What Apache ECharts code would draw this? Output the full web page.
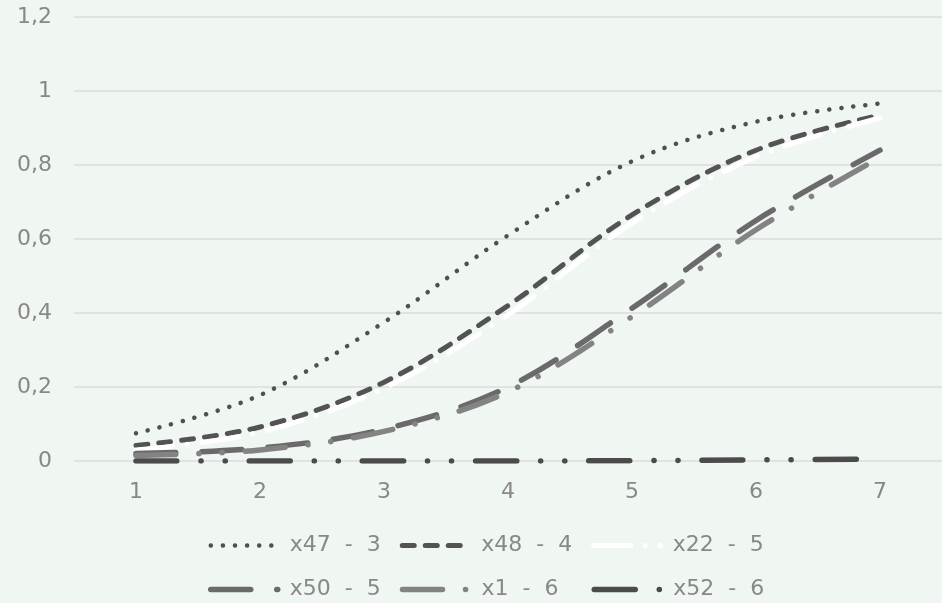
<!DOCTYPE html>
<html>
<head>
<meta charset="utf-8">
<script src="https://cdn.jsdelivr.net/npm/echarts@6/dist/echarts.min.js"></script>
<style>
html,body{margin:0;padding:0;background:#f0f6f2;}
#chart{width:942px;height:603px;}
</style>
</head>
<body>
<div id="chart"></div>
<script>
const categories = ['1', '2', '3', '4', '5', '6', '7'];
const seriesNames = ['x47  -  3', 'x48  -  4', 'x22  -  5', 'x50  -  5', 'x1  -  6', 'x52  -  6'];
const x47 = [0.075, 0.178, 0.375, 0.61, 0.81, 0.917, 0.966];
const x48 = [0.042, 0.092, 0.213, 0.42, 0.665, 0.84, 0.935];
const x22 = [0.03, 0.078, 0.197, 0.395, 0.643, 0.822, 0.927];
const x50 = [0.02, 0.035, 0.086, 0.2, 0.413, 0.65, 0.84];
const x1 = [0.015, 0.03, 0.08, 0.187, 0.39, 0.625, 0.82];
const x52 = [0, 0, 0, 0, 0.001, 0.003, 0.005];
const yTicks = { min: 0, max: 1.2, interval: 0.2 };

const FONT = 'DejaVu Sans';
const TXT = '#888888';

const styles = [
  { color: '#505050', width: 4.5, type: [0.1, 12] },
  { color: '#535353', width: 5, type: [12, 11] },
  { color: '#ffffff', width: 5, type: [37, 14.5, 0.1, 14.5] },
  { color: '#6a6a6a', width: 5.5, type: [40, 26] },
  { color: '#838383', width: 5.5, type: [40, 23, 0.1, 23, 0.1, 23] },
  { color: '#4b4b4b', width: 5.5, type: [41, 24, 0.1, 24, 0.1, 24] }
];
const values = [x47, x48, x22, x50, x1, x52];

const chart = echarts.init(document.getElementById('chart'), null, { renderer: 'canvas' });
chart.setOption({
  backgroundColor: '#f0f6f2',
  animation: false,
  grid: { left: 74, right: 0, top: 17, bottom: 142, containLabel: false },
  xAxis: {
    type: 'category',
    data: categories,
    boundaryGap: true,
    axisLine: { show: false },
    axisTick: { show: false },
    splitLine: { show: false },
    axisLabel: { color: TXT, fontFamily: FONT, fontSize: 22, margin: 20 }
  },
  yAxis: {
    type: 'value',
    min: yTicks.min, max: yTicks.max, interval: yTicks.interval,
    axisLine: { show: false },
    axisTick: { show: false },
    splitLine: { show: true, lineStyle: { color: '#dcdcdc', width: 1.5 } },
    axisLabel: {
      color: TXT, fontFamily: FONT, fontSize: 22, margin: 22,
      formatter: v => String(+v.toFixed(1)).replace('.', ',')
    }
  },
  legend: {
    left: 208, top: 528, width: 575, padding: 0,
    itemWidth: 67, itemHeight: 14, itemGap: 9,
    itemStyle: { opacity: 0 },
    lineStyle: { width: 'inherit', cap: 'round' },
    textStyle: { color: TXT, fontFamily: FONT, fontSize: 22, width: 101, lineHeight: 35, padding: [0, 0, 0, 7] },
    data: seriesNames
  },
  series: values.map((d, i) => ({
    name: seriesNames[i],
    type: 'line',
    data: d,
    smooth: 0.35,
    symbol: 'none',
    lineStyle: { color: styles[i].color, width: styles[i].width, type: styles[i].type, cap: 'round', join: 'round' },
    itemStyle: { color: styles[i].color },
    emphasis: { disabled: true }
  }))
});
</script>
</body>
</html>
